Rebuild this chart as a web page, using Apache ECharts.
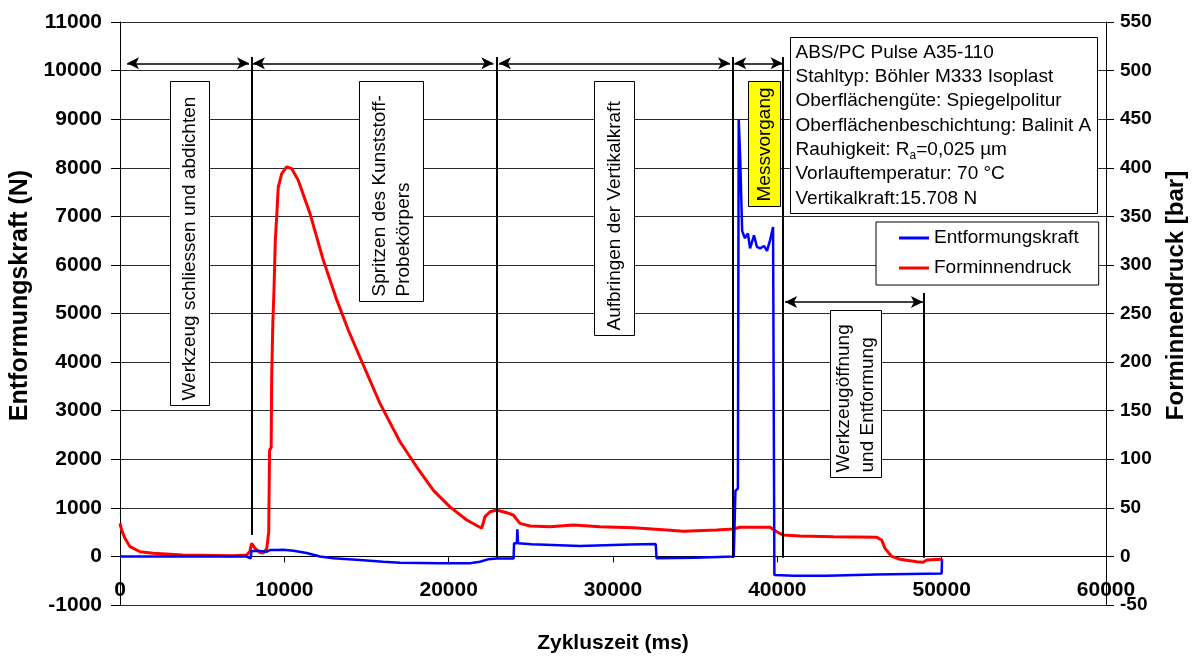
<!DOCTYPE html>
<html>
<head>
<meta charset="utf-8">
<title>Entformungskraft und Forminnendruck</title>
<script src="https://cdn.jsdelivr.net/npm/echarts@6/dist/echarts.min.js"></script>
<style>
  html, body { margin: 0; padding: 0; background: #fff; }
  #chart { width: 1195px; height: 657px; }
</style>
</head>
<body>
<div id="chart"></div>
<script>
// Entformungskraft (N), left axis
const timeForce = [0, 7650, 7700, 7950, 8000, 8500, 8900, 9130, 9500, 9940, 10550, 11360, 12170, 12980, 14600,
  16020, 17040, 19470, 21300, 21900, 22390, 22920, 23950, 23980, 24150, 24180, 24220, 25050, 25100, 28000,
  29500, 31000, 32600, 32650, 35000, 37350, 37420, 37450, 37600, 37650, 37720, 37740, 37830, 37860, 38030,
  38210, 38340, 38580, 38760, 38950, 39190, 39370, 39560, 39740, 39790, 39820, 41000, 43000, 46000, 49000,
  50000, 50020];
const force = [0, 0, -40, -40, 110, 110, 95, 130, 130, 135, 115, 70, 0, -40, -75,
  -110, -130, -140, -140, -110, -60, -45, -45, 270, 270, 560, 270, 250, 215, 215,
  230, 245, 255, -40, -25, 0, 0, 1350, 1400, 9000, 9000, 8200, 8200, 6700, 6550,
  6650, 6340, 6610, 6370, 6340, 6390, 6290, 6510, 6780, 6800, -380, -400, -400, -370, -355,
  -350, -60];

// Forminnendruck (bar), right axis
const timePressure = [0, 100, 300, 610, 1220, 2010, 3830, 6880, 7710, 7900, 8010, 8220, 8520, 8720, 8930,
  9050, 9100, 9200, 9230, 9300, 9370, 9450, 9540, 9630, 9840, 10140, 10450, 10850, 11560, 12370,
  13190, 13890, 14600, 15820, 17040, 18060, 19070, 20080, 21100, 22010, 22210, 22520, 22920, 23530, 23930,
  24340, 24950, 26170, 27590, 29210, 31240, 33270, 34280, 36310, 37320, 37730, 39560, 39960, 40360, 41370,
  43410, 46050, 46350, 46550, 46960, 47470, 48480, 48880, 49090, 50040];
const pressure = [34, 27, 18.6, 10, 4.8, 3.2, 1.4, 0.6, 1.4, 5, 13.5, 8.3, 4, 3.5, 8,
  25, 109, 112, 185, 240, 274, 325, 351, 380, 394, 401, 399, 387, 353, 305,
  264, 233, 205, 157.5, 118, 92, 68, 51, 37.5, 29, 41, 46, 47.7, 45, 42.6,
  34, 31.3, 30.6, 32.3, 30.6, 29.5, 27.2, 26, 27.2, 28.2, 30, 30, 25.4, 22, 21,
  20.3, 19.6, 16.9, 8.3, 0, -3, -5.4, -6, -3.7, -3];

const seriesNames = ['Entformungskraft', 'Forminnendruck'];

// Phase boundaries of the cycle (ms)
const phaseTimes = [8000, 22900, 37300, 40300, 48900];
const phaseLabels = [
  'Werkzeug schliessen und abdichten',
  'Spritzen des Kunststoff-\nProbekörpers',
  'Aufbringen der Vertikalkraft',
  'Messvorgang',
  'Werkzeugöffnung\nund Entformung'
];
const infoLines = [
  'ABS/PC Pulse A35-110',
  'Stahltyp: Böhler M333 Isoplast',
  'Oberflächengüte: Spiegelpolitur',
  'Oberflächenbeschichtung: Balinit A',
  'Rauhigkeit: R{sub|a}=0,025 µm',
  'Vorlauftemperatur: 70 °C',
  'Vertikalkraft:15.708 N'
];

const FONT = "'Liberation Sans', Arial, Helvetica, sans-serif";

// Layout of the annotation marks, in axis units (ms, N)
const arrowLevel = 10150;
const arrowSpans = [[430, 7850, arrowLevel], [8090, 22720, arrowLevel], [23060, 37120, arrowLevel],
  [37380, 40320, arrowLevel], [40470, 48860, 5235]];
const boundarySpans = [[10280, 440], [10280, -30], [10280, -30], [10280, -30], [5420, -30]];
const phaseBoxes = [
  { t0: 3040, t1: 5420, n0: 3115, n1: 9780, fill: '#ffffff' },
  { t0: 14540, t1: 18440, n0: 5260, n1: 9780, fill: '#ffffff' },
  { t0: 28830, t1: 31300, n0: 4560, n1: 9780, fill: '#ffffff' },
  { t0: 38220, t1: 40160, n0: 7210, n1: 9780, fill: '#ffff00' },
  { t0: 43210, t1: 46310, n0: 1640, n1: 5070, fill: '#ffffff' }
];
const infoBox = { t0: 40770, t1: 59440, n0: 7060, n1: 10690 };

const zip = (xs, ys) => xs.map((x, i) => [x, ys[i]]);
const plain = v => String(v);

const markLines = [];
phaseTimes.forEach((t, i) => {
  markLines.push([
    { coord: [t, boundarySpans[i][0]], symbol: 'none' },
    { coord: [t, boundarySpans[i][1]], symbol: 'none', lineStyle: { color: '#000', width: 2, type: 'solid' } }
  ]);
});
arrowSpans.forEach(a => {
  markLines.push([
    { coord: [a[0], a[2]], symbol: 'arrow', symbolSize: [9, 12] },
    { coord: [a[1], a[2]], symbol: 'arrow', symbolSize: [9, 12], lineStyle: { color: '#000', width: 1.5, type: 'solid' } }
  ]);
});

const chart = echarts.init(document.getElementById('chart'), null, { renderer: 'canvas' });

const axisText = { color: '#000', fontWeight: 'bold', fontFamily: FONT };

chart.setOption({
  animation: false,
  backgroundColor: '#fff',
  textStyle: { fontFamily: FONT },
  grid: { left: 120, right: 89, top: 22, bottom: 52, outerBoundsMode: 'none' },
  legend: {
    data: seriesNames,
    orient: 'vertical',
    left: 876,
    top: 222,
    padding: [6, 20, 7, 23],
    itemGap: 10,
    itemWidth: 30,
    itemHeight: 3,
    icon: 'rect',
    backgroundColor: '#fff',
    borderColor: '#000',
    borderWidth: 1,
    borderRadius: 0,
    textStyle: { fontSize: 19, color: '#000', fontFamily: FONT, lineHeight: 20 },
    selectedMode: false
  },
  xAxis: {
    type: 'value',
    min: 0,
    max: 60000,
    interval: 10000,
    name: 'Zykluszeit (ms)',
    nameLocation: 'middle',
    nameGap: 76,
    nameTextStyle: Object.assign({ fontSize: 21 }, axisText),
    axisLine: { show: true, onZero: false, lineStyle: { color: '#000', width: 1 } },
    axisTick: { show: true, length: 6, lineStyle: { color: '#000' } },
    axisLabel: Object.assign({ fontSize: 21, margin: 23, showMinLabel: true, showMaxLabel: true, formatter: plain }, axisText),
    splitLine: { show: false }
  },
  yAxis: [
    {
      type: 'value',
      position: 'left',
      min: -1000,
      max: 11000,
      interval: 1000,
      name: 'Entformungskraft (N)',
      nameLocation: 'middle',
      nameRotate: 90,
      nameGap: 80,
      nameTextStyle: Object.assign({ fontSize: 25, padding: [0, 0, 0, 36] }, axisText),
      axisLine: { show: true, onZero: false, lineStyle: { color: '#000', width: 1 } },
      axisTick: { show: true, length: 9, lineStyle: { color: '#000' } },
      axisLabel: Object.assign({ fontSize: 21, margin: 18, formatter: plain }, axisText),
      splitLine: { show: true, lineStyle: { color: '#2a2a2a', width: 1 } }
    },
    {
      type: 'value',
      position: 'right',
      min: -50,
      max: 550,
      interval: 50,
      name: 'Forminnendruck [bar]',
      nameLocation: 'middle',
      nameRotate: 90,
      nameGap: 58,
      nameTextStyle: Object.assign({ fontSize: 24, padding: [0, 0, 0, 36] }, axisText),
      axisLine: { show: true, onZero: false, lineStyle: { color: '#000', width: 1 } },
      axisTick: { show: true, length: 8, lineStyle: { color: '#000' } },
      axisLabel: Object.assign({ fontSize: 19, margin: 14, formatter: plain }, axisText),
      splitLine: { show: false }
    }
  ],
  series: [
    {
      name: seriesNames[0],
      type: 'line',
      yAxisIndex: 0,
      data: zip(timeForce, force),
      showSymbol: false,
      symbol: 'none',
      lineStyle: { color: '#0000ff', width: 2.5 },
      itemStyle: { color: '#0000ff' },
      z: 3,
      markLine: {
        silent: true,
        symbol: 'none',
        label: { show: false },
        emphasis: { disabled: true },
        lineStyle: { color: '#000', width: 1.5, type: 'solid' },
        itemStyle: { color: '#000' },
        data: markLines
      }
    },
    {
      name: seriesNames[1],
      type: 'line',
      yAxisIndex: 1,
      data: zip(timePressure, pressure),
      showSymbol: false,
      symbol: 'none',
      lineStyle: { color: '#ff0000', width: 3 },
      itemStyle: { color: '#ff0000' },
      z: 2
    }
  ]
});

// The time axis crosses the force axis at 0 N
const yZero = chart.convertToPixel({ yAxisIndex: 0 }, 0);
const yBottom = chart.convertToPixel({ yAxisIndex: 0 }, -1000);
chart.setOption({ xAxis: { offset: yZero - yBottom } });

// Text boxes for the process phases and the test parameters
function buildAnnotations() {
  const toPx = (t, n) => chart.convertToPixel({ seriesIndex: 0 }, [t, n]);
  const elements = [];
  phaseBoxes.forEach((b, i) => {
    const tl = toPx(b.t0, b.n1);
    const br = toPx(b.t1, b.n0);
    const x0 = Math.round(tl[0]) + 0.5, y0 = Math.round(tl[1]) + 0.5;
    const x1 = Math.round(br[0]) + 0.5, y1 = Math.round(br[1]) + 0.5;
    elements.push({
      type: 'rect', silent: true, z: 100,
      shape: { x: x0, y: y0, width: x1 - x0, height: y1 - y0 },
      style: { fill: b.fill, stroke: '#000', lineWidth: 1 }
    });
    elements.push({
      type: 'text', silent: true, z: 101,
      x: (x0 + x1) / 2, y: y1 - 5, rotation: Math.PI / 2,
      style: {
        text: phaseLabels[i], fill: '#000', fontSize: 19, fontFamily: FONT, lineHeight: 24,
        textAlign: 'left', textVerticalAlign: 'middle', align: 'left', verticalAlign: 'middle'
      }
    });
  });
  const itl = toPx(infoBox.t0, infoBox.n1);
  const ibr = toPx(infoBox.t1, infoBox.n0);
  const ix0 = Math.round(itl[0]) + 0.5, iy0 = Math.round(itl[1]) + 0.5;
  const ix1 = Math.round(ibr[0]) + 0.5, iy1 = Math.round(ibr[1]) + 0.5;
  elements.push({
    type: 'rect', silent: true, z: 100,
    shape: { x: ix0, y: iy0, width: ix1 - ix0, height: iy1 - iy0 },
    style: { fill: '#fff', stroke: '#000', lineWidth: 1 }
  });
  elements.push({
    type: 'text', silent: true, z: 101,
    x: ix0 + 5, y: iy0 + 3,
    style: {
      text: infoLines.join('\n'), fill: '#000', fontSize: 19, fontFamily: FONT, lineHeight: 24.3,
      textAlign: 'left', textVerticalAlign: 'top', align: 'left', verticalAlign: 'top',
      rich: {
        sub: { fontSize: 12, fontFamily: FONT, fill: '#000', lineHeight: 12, verticalAlign: 'bottom' }
      }
    }
  });
  chart.setOption({ graphic: { elements: elements } });
}
buildAnnotations();
</script>
</body>
</html>
